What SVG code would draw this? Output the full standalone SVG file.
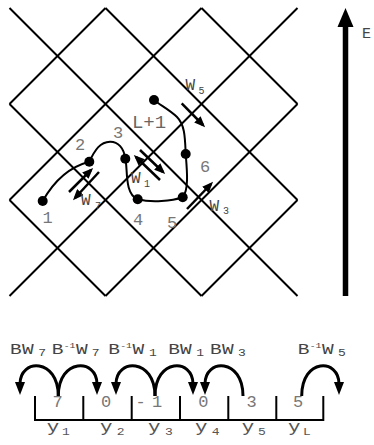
<svg xmlns="http://www.w3.org/2000/svg" width="374" height="445" viewBox="0 0 374 445">
<style>
.grid line{stroke:#000;stroke-width:2;stroke-linecap:butt}
.curve{fill:none;stroke:#000;stroke-width:2}
.dot{fill:#000}
.wa{stroke:#000;stroke-width:2.5;fill:none;marker-end:url(#ah)}
.arc{fill:none;stroke:#000;stroke-width:3;marker-end:url(#ah2)}
.num{font-family:"Liberation Mono",monospace;font-size:17px;fill:#777;text-anchor:middle}
.lab{font-family:"Liberation Mono",monospace;font-size:16px;fill:#444}
.sm{font-size:10px}
.sup{font-size:7.5px}
.box{stroke:#000;stroke-width:2;fill:none}
</style>
<defs>
<marker id="ah" viewBox="0 0 11 9" refX="8" refY="4.5" markerWidth="11" markerHeight="9" markerUnits="userSpaceOnUse" orient="auto">
<path d="M0,0 L11,4.5 L0,9 z" fill="#000"/>
</marker>
<marker id="ah2" viewBox="0 0 13 10" refX="2" refY="5" markerWidth="13" markerHeight="10" markerUnits="userSpaceOnUse" orient="auto">
<path d="M0,0 L13,5 L0,10 z" fill="#000"/>
</marker>
</defs>
<rect width="374" height="445" fill="#fff"/>
<g id="grid" class="grid">
<line x1="9.5" y1="8" x2="297.5" y2="296"/>
<line x1="105.5" y1="8" x2="297.5" y2="200"/>
<line x1="201.5" y1="8" x2="297.5" y2="104"/>
<line x1="9.5" y1="104" x2="201.5" y2="296"/>
<line x1="9.5" y1="200" x2="105.5" y2="296"/>
<line x1="297.5" y1="8" x2="9.5" y2="296"/>
<line x1="105.5" y1="8" x2="9.5" y2="104"/>
<line x1="201.5" y1="8" x2="9.5" y2="200"/>
<line x1="297.5" y1="104" x2="105.5" y2="296"/>
<line x1="297.5" y1="200" x2="201.5" y2="296"/>
</g>
<g id="connectors">
<path class="curve" d="M42.7,201 C50,188 65,168 89.3,161.7 C95,150 100,142 110,141.7 C118,141.5 124,148 125.3,158.7 C128,168 124,194 137.7,199.3 C152,203 172,201 182.7,197.3 C189,190 187,170 185.7,154 C185,138 185,125 177,117 C170,110 160,105 154,100"/>
<line class="wa" x1="69" y1="192" x2="91" y2="170"/>
<line class="wa" x1="99" y1="172" x2="75" y2="198"/>
<line class="wa" x1="140" y1="150" x2="163" y2="172"/>
<line class="wa" x1="160" y1="180" x2="136" y2="157"/>
<line class="wa" x1="187" y1="209" x2="211" y2="184"/>
<line class="wa" x1="181.7" y1="103.3" x2="203" y2="125"/>
<line x1="345.5" y1="296" x2="345.5" y2="24" stroke="#000" stroke-width="5.5"/>
<polygon points="337.5,27 353.5,27 345.5,8" fill="#000"/>
</g>
<text x="362" y="38" class="lab" style="font-size:15px">E</text>
<g id="n1"><circle class="dot" cx="42.7" cy="201" r="5"/><text class="num" x="47.5" y="223">1</text></g>
<g id="n2"><circle class="dot" cx="89.3" cy="161.7" r="5"/><text class="num" x="80" y="150">2</text></g>
<g id="n3"><circle class="dot" cx="125.3" cy="158.7" r="5"/><text class="num" x="118" y="138">3</text></g>
<g id="n4"><circle class="dot" cx="137.7" cy="199.3" r="5"/><text class="num" x="138" y="225">4</text></g>
<g id="n5"><circle class="dot" cx="182.7" cy="197.3" r="5"/><text class="num" x="172" y="228">5</text></g>
<g id="n6"><circle class="dot" cx="185.7" cy="154" r="5"/><text class="num" x="205" y="172">6</text></g>
<g id="nL1"><circle class="dot" cx="154" cy="100" r="5"/><text class="num" x="149" y="128" style="font-size:19px;fill:#666">L+1</text></g>
<g id="wlabels" class="lab">
<text x="185.5" y="90">W<tspan class="sm" x="198.5" y="94">5</tspan></text>
<text x="131" y="183">W<tspan class="sm" x="144" y="187">1</tspan></text>
<text x="81" y="205">W<tspan class="sm" x="95" y="209">7</tspan></text>
<text x="209.5" y="210.5">W<tspan class="sm" x="223" y="214">3</tspan></text>
</g>
<g id="arcs">
<path class="arc" d="M58.3,396 C58.3,358 20,358 20,384"/>
<path class="arc" d="M58.3,396 C58.3,358 97,358 97,384"/>
<path class="arc" d="M155,396 C155,358 116,358 116,384"/>
<path class="arc" d="M155,396 C155,358 193,358 193,384"/>
<path class="arc" d="M243,396 C243,358 205,358 205,384"/>
<path class="arc" d="M301.7,396 C301.7,358 339,358 339,384"/>
</g>
<g id="oplabels" class="lab" transform="scale(1.3 1)" style="font-size:15px">
<text y="354"><tspan x="7.7">B</tspan><tspan x="16.9">W</tspan><tspan class="sm" x="29.5" y="356">7</tspan></text>
<text y="354"><tspan x="39.8">B</tspan><tspan class="sup" x="49" y="348">-1</tspan><tspan x="58.5" y="354">W</tspan><tspan class="sm" x="70.6" y="356">7</tspan></text>
<text y="354"><tspan x="83.3">B</tspan><tspan class="sup" x="92.5" y="348">-1</tspan><tspan x="102" y="354">W</tspan><tspan class="sm" x="114.6" y="356">1</tspan></text>
<text y="354"><tspan x="129.5">B</tspan><tspan x="138.5">W</tspan><tspan class="sm" x="151" y="356">1</tspan></text>
<text y="354"><tspan x="161.5">B</tspan><tspan x="170.8">W</tspan><tspan class="sm" x="183.1" y="356">3</tspan></text>
<text y="354"><tspan x="229">B</tspan><tspan class="sup" x="238.2" y="348">-1</tspan><tspan x="247.7" y="354">W</tspan><tspan class="sm" x="260" y="356">5</tspan></text>
</g>
<g id="table">
<path class="box" d="M35,396 V420 H323.3 V396 M83.3,396 V420 M131.7,396 V420 M180,396 V420 M228.3,396 V420 M276.3,396 V420"/>
<text class="num" x="57.5" y="407">7</text>
<text class="num" x="106" y="407">0</text>
<text class="num" y="407"><tspan x="140.5">-</tspan><tspan x="157">1</tspan></text>
<text class="num" x="203.3" y="407">0</text>
<text class="num" x="251.7" y="407">3</text>
<text class="num" x="298" y="407">5</text>
</g>
<g id="ylabels" class="lab" transform="scale(1.3 1)" style="fill:#555">
<text y="432"><tspan x="35.9">y</tspan><tspan class="sm" x="47.7" y="435">1</tspan></text>
<text y="432"><tspan x="76.9">y</tspan><tspan class="sm" x="89.8" y="435">2</tspan></text>
<text y="432"><tspan x="113.8">y</tspan><tspan class="sm" x="126.9" y="435">3</tspan></text>
<text y="432"><tspan x="150">y</tspan><tspan class="sm" x="162.8" y="435">4</tspan></text>
<text y="432"><tspan x="185.9">y</tspan><tspan class="sm" x="198.5" y="435">5</tspan></text>
<text y="432"><tspan x="221.5">y</tspan><tspan class="sm" x="233.1" y="435">L</tspan></text>
</g>
</svg>
